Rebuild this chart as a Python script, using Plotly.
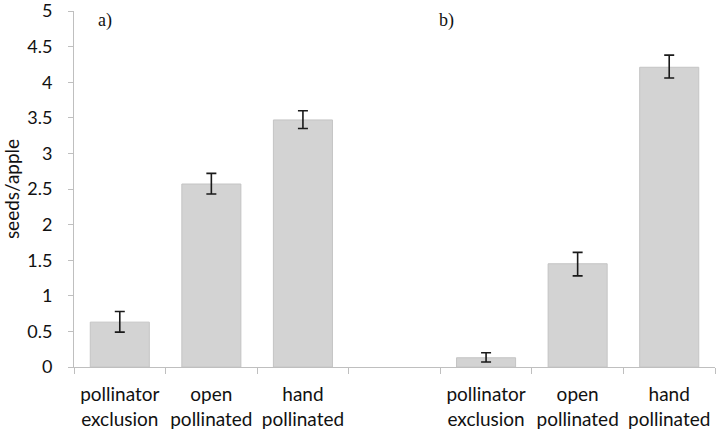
import plotly.graph_objects as go

categories = ["pollinator<br>exclusion", "open<br>pollinated", "hand<br>pollinated", "",
              "pollinator<br>exclusion", "open<br>pollinated", "hand<br>pollinated"]
values = [0.63, 2.57, 3.47, None, 0.13, 1.45, 4.21]
err_plus = [0.15, 0.15, 0.13, None, 0.07, 0.16, 0.17]
err_minus = [0.14, 0.14, 0.12, None, 0.06, 0.17, 0.15]
y_ticks = [0, 0.5, 1, 1.5, 2, 2.5, 3, 3.5, 4, 4.5, 5]
y_tick_labels = ["0", "0.5", "1", "1.5", "2", "2.5", "3", "3.5", "4", "4.5", "5"]
panel_labels = ["a)", "b)"]

xpos = list(range(len(categories)))
font_fam = "Lato, Open Sans, sans-serif"

fig = go.Figure()
fig.add_trace(go.Bar(
    x=xpos, y=values,
    marker=dict(color="#d3d3d3", line=dict(color="#c4c4c4", width=1)),
    error_y=dict(type="data", symmetric=False, array=err_plus, arrayminus=err_minus,
                 color="#1a1a1a", thickness=1.6, width=5),
    width=0.645,
    showlegend=False,
))
# invisible trace to activate boundary tick axis
fig.add_trace(go.Scatter(x=[-0.5, 6.5], y=[0, 0], xaxis="x2", mode="markers",
                         marker=dict(opacity=0), showlegend=False, hoverinfo="skip"))

fig.update_layout(
    width=721, height=431,
    margin=dict(l=74, r=6, t=11, b=64),
    paper_bgcolor="white", plot_bgcolor="white",
    font=dict(family=font_fam, size=19, color="#111111"),
    xaxis=dict(
        range=[-0.5, 6.5], tickvals=xpos, ticktext=categories,
        ticks="", showline=True, linecolor="#bfbfbf", linewidth=1,
        showgrid=False, zeroline=False, tickfont=dict(size=19, color="#111111"),
        automargin=False, ticklabelstandoff=10, ticklabeloverflow="allow",
    ),
    xaxis2=dict(
        range=[-0.5, 6.5], overlaying="x", side="bottom",
        tickvals=[i - 0.5 for i in range(len(categories) + 1)],
        showticklabels=False, ticks="outside", ticklen=6, tickcolor="#bfbfbf",
        showline=False, showgrid=False, zeroline=False, automargin=False,
    ),
    yaxis=dict(
        range=[0, 5], tickvals=y_ticks, ticktext=y_tick_labels,
        ticks="outside", ticklen=5, tickcolor="#bfbfbf",
        showline=True, linecolor="#bfbfbf", linewidth=1,
        showgrid=False, zeroline=False, automargin=False,
        tickfont=dict(size=18, color="#111111"), ticklabelstandoff=12,
        ticklabeloverflow="allow",
        title=dict(text="seeds/apple", font=dict(size=19, color="#111111"), standoff=17),
    ),
    annotations=[
        dict(x=-0.16, y=4.87, xref="x", yref="y", text=panel_labels[0], showarrow=False,
             font=dict(family="Liberation Serif, serif", size=18, color="#111111")),
        dict(x=3.57, y=4.87, xref="x", yref="y", text=panel_labels[1], showarrow=False,
             font=dict(family="Liberation Serif, serif", size=18, color="#111111")),
    ],
)

fig.write_html("out.html", config={"displayModeBar": False},
               post_script="document.body.style.margin='0';document.body.style.overflow='hidden';")
